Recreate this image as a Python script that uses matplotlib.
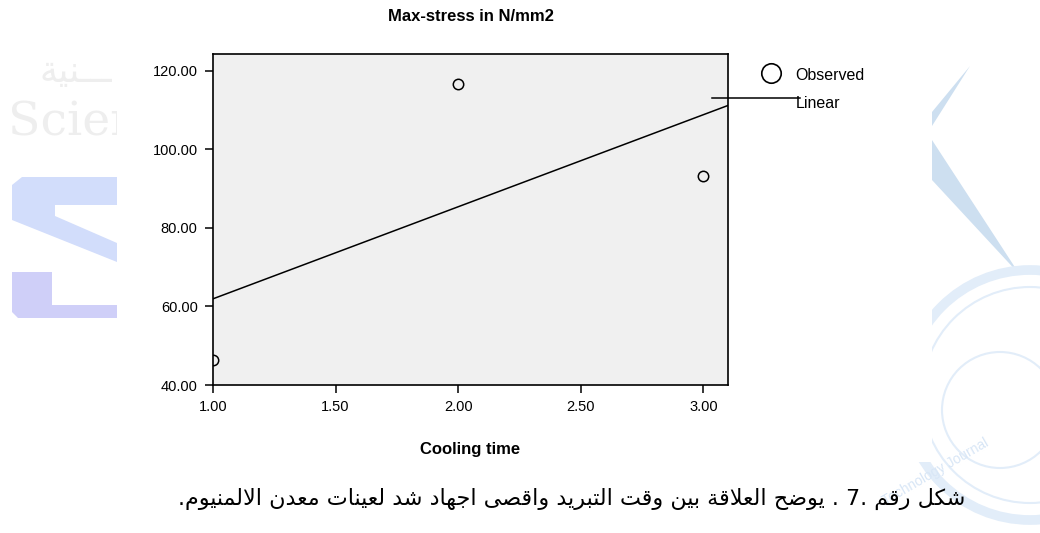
import matplotlib
matplotlib.use("Agg")
import matplotlib.pyplot as plt
import numpy as np
from matplotlib.lines import Line2D
from matplotlib.patches import Polygon, Rectangle, Ellipse

# data
cooling_time = [1.0, 2.0, 3.0]
max_stress = [46.3, 116.7, 93.2]
x_ticks = [1.0, 1.5, 2.0, 2.5, 3.0]
y_ticks = [40, 60, 80, 100, 120]
title = "Max-stress in N/mm2"
x_label = "Cooling time"
legend_labels = ["Observed", "Linear"]
caption = "شكل رقم .7 . يوضح العلاقة بين وقت التبريد واقصى اجهاد شد لعينات معدن الالمنيوم."

W, H = 1040, 533

# arabic presentation forms: isolated, final, initial, medial
FORMS = {
    'ـ': '\u0640\u0640\u0640\u0640',
    'ا': '\uFE8D\uFE8E',
    'ب': '\uFE8F\uFE90\uFE91\uFE92',
    'ة': '\uFE93\uFE94',
    'ت': '\uFE95\uFE96\uFE97\uFE98',
    'ج': '\uFE9D\uFE9E\uFE9F\uFEA0',
    'ح': '\uFEA1\uFEA2\uFEA3\uFEA4',
    'د': '\uFEA9\uFEAA',
    'ر': '\uFEAD\uFEAE',
    'ش': '\uFEB5\uFEB6\uFEB7\uFEB8',
    'ص': '\uFEB9\uFEBA\uFEBB\uFEBC',
    'ض': '\uFEBD\uFEBE\uFEBF\uFEC0',
    'ع': '\uFEC9\uFECA\uFECB\uFECC',
    'ق': '\uFED5\uFED6\uFED7\uFED8',
    'ك': '\uFED9\uFEDA\uFEDB\uFEDC',
    'ل': '\uFEDD\uFEDE\uFEDF\uFEE0',
    'م': '\uFEE1\uFEE2\uFEE3\uFEE4',
    'ن': '\uFEE5\uFEE6\uFEE7\uFEE8',
    'ه': '\uFEE9\uFEEA\uFEEB\uFEEC',
    'و': '\uFEED\uFEEE',
    'ى': '\uFEEF\uFEF0',
    'ي': '\uFEF1\uFEF2\uFEF3\uFEF4',
    'LA': '\uFEFB\uFEFC',
}


def shape(text):
    """join arabic letters and put them in visual order"""
    chars = []
    i = 0
    while i < len(text):
        if text[i] == 'ل' and i + 1 < len(text) and text[i + 1] == 'ا':
            chars.append('LA')
            i += 2
        else:
            chars.append(text[i])
            i += 1
    out = []
    for k, c in enumerate(chars):
        if c not in FORMS:
            out.append(c)
            continue
        f = FORMS[c]
        prev = chars[k - 1] if k > 0 else None
        nxt = chars[k + 1] if k + 1 < len(chars) else None
        jp = prev in FORMS and len(FORMS[prev]) == 4
        jn = len(f) == 4 and nxt in FORMS
        if jp and jn:
            out.append(f[3])
        elif jp:
            out.append(f[1])
        elif jn:
            out.append(f[2])
        else:
            out.append(f[0])
    return ''.join(reversed(out))


def px(x, y):
    return (x / W, 1 - y / H)


plt.rcParams['font.family'] = ['Liberation Sans', 'DejaVu Sans']

fig = plt.figure(figsize=(W / 100, H / 100), dpi=100)

# faint watermark of the page behind the chart
wm_blue = "#d2ddfb"
wm_lav = "#cfcff8"
wm_sky = "#cddff0"
wm_ring = "#e2edf9"
fig.add_artist(Polygon([px(12, 185), px(22, 177), px(117, 177), px(117, 205), px(55, 205),
                        px(55, 216), px(117, 243), px(117, 262), px(12, 220)],
                       closed=True, transform=fig.transFigure, color=wm_blue, lw=0, zorder=-3))
fig.add_artist(Polygon([px(12, 272), px(52, 272), px(52, 305), px(117, 305), px(117, 318),
                        px(18, 318), px(12, 312)],
                       closed=True, transform=fig.transFigure, color=wm_lav, lw=0, zorder=-3))
fig.text(*px(8, 136), "Scien", fontsize=34, family="serif", color="#eeeeee", zorder=-3)
fig.text(*px(112, 82), shape("ـــنية"), fontsize=26, family="DejaVu Sans", color="#eeeeee",
         ha="right", zorder=-3)
fig.add_artist(Polygon([px(932, 112), px(970, 66), px(932, 126)],
                       closed=True, transform=fig.transFigure, color=wm_sky, lw=0, zorder=-3))
fig.add_artist(Polygon([px(932, 140), px(1020, 275), px(932, 180)],
                       closed=True, transform=fig.transFigure, color=wm_sky, lw=0, zorder=-3))
for cx, cy, r, lw in [(1030, 395, 125, 7), (1030, 395, 108, 1.5), (1000, 410, 58, 1.5)]:
    fig.add_artist(Ellipse(px(cx, cy), 2 * r / W, 2 * r / H, transform=fig.transFigure,
                           fill=False, ec=wm_ring, lw=lw, zorder=-3))
fig.text(*px(880, 505), "Technology Journal", fontsize=10, color="#d8e6f6",
         rotation=30, zorder=-3)

# the chart itself sits on a white block
fig.add_artist(Rectangle(px(117, 462), (932 - 117) / W, 462 / H, transform=fig.transFigure,
                         color="white", lw=0, zorder=-2))

ax = fig.add_axes([213 / W, 1 - 385 / H, (728 - 213) / W, (385 - 54) / H])
ax.set_facecolor("#f0f0f0")

ax.plot(cooling_time, max_stress, linestyle="none", marker="o", markersize=7.5,
        markerfacecolor="none", markeredgecolor="black", markeredgewidth=1.1)

ax.set_xlim(1.0, 3.1)
ax.set_ylim(40, 124.3)

slope, icept = np.polyfit(cooling_time, max_stress, 1)
xs = np.array(ax.get_xlim())
ax.plot(xs, icept + slope * xs, color="black", lw=1.1)

ax.set_xticks(x_ticks)
ax.set_xticklabels(["%.2f" % v for v in x_ticks])
ax.set_yticks(y_ticks)
ax.set_yticklabels(["%.2f" % v for v in y_ticks])
ax.tick_params(direction="out", length=6, width=1.1, labelsize=10.5, pad=5)
for s in ax.spines.values():
    s.set_linewidth(1.2)

ax.set_title(title, fontsize=12, fontweight="bold", pad=24)
ax.set_xlabel(x_label, fontsize=12, fontweight="bold", labelpad=20)

# legend to the right of the plot
fig.add_artist(Line2D([px(771, 73)[0]], [px(771, 73)[1]], transform=fig.transFigure,
                      marker="o", markersize=14, markerfacecolor="none",
                      markeredgecolor="black", markeredgewidth=1.2, linestyle="none"))
fig.text(*px(795, 75), legend_labels[0], fontsize=11.5, va="center")
fig.add_artist(Line2D([712 / W, 800 / W], [1 - 98 / H, 1 - 98 / H], transform=fig.transFigure,
                      color="black", lw=1.1))
fig.text(*px(796, 104), legend_labels[1], fontsize=11.5, va="center")

fig.text(*px(965, 499), shape(caption), fontsize=16, family="DejaVu Sans",
         ha="right", va="center")

plt.savefig("out.png", dpi=100)
